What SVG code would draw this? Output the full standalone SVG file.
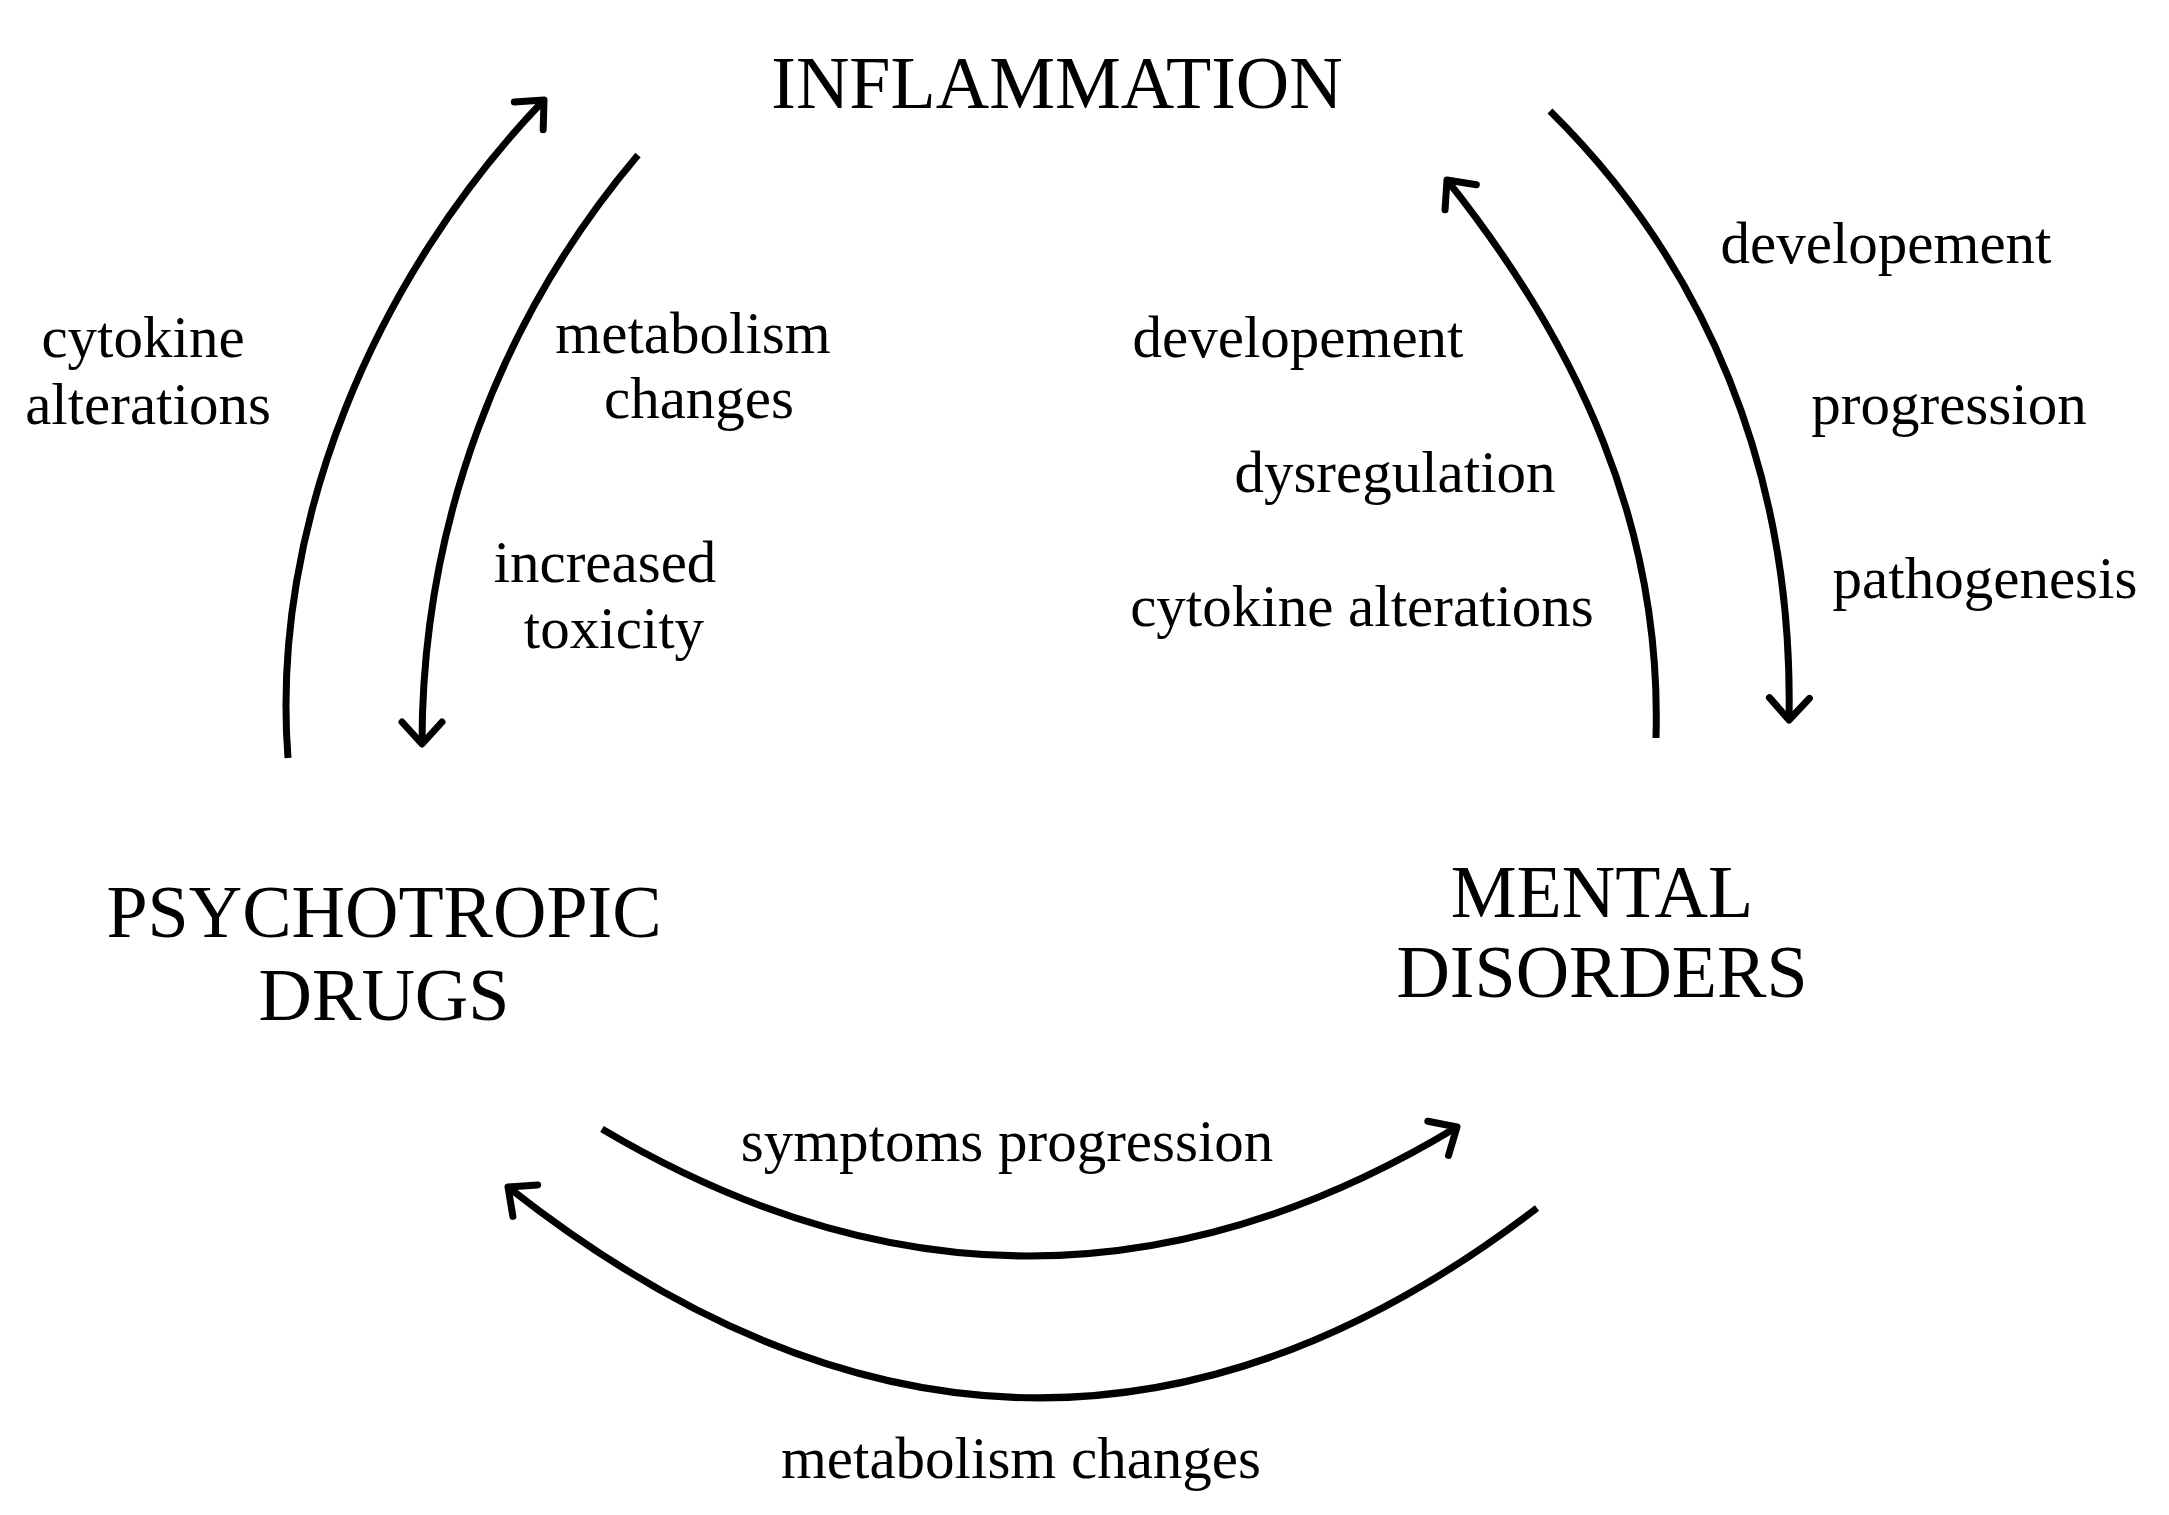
<svg xmlns="http://www.w3.org/2000/svg" width="2169" height="1515" viewBox="0 0 2169 1515">
<style>
.t{font-family:"Liberation Serif","DejaVu Serif",serif;font-size:59px;fill:#000;text-anchor:middle}
.h{font-family:"Liberation Serif","DejaVu Serif",serif;font-size:74px;fill:#000;text-anchor:middle}
.c{fill:none;stroke:#000;stroke-width:7}
</style>
<defs>
<marker id="a" markerUnits="userSpaceOnUse" markerWidth="60" markerHeight="60" refX="30" refY="30" orient="auto" viewBox="0 0 60 60">
<path d="M8,10 L30,30 L8,50" fill="none" stroke="#000" stroke-width="7" stroke-linecap="round" stroke-linejoin="round"/>
</marker>
</defs>
<rect width="2169" height="1515" fill="#fff"/>
<g id="inflammation"><text class="h" x="1057" y="108">INFLAMMATION</text></g>
<g id="psychotropic"><text class="h" x="384" y="937">PSYCHOTROPIC</text><text class="h" x="384" y="1020">DRUGS</text></g>
<g id="mental"><text class="h" x="1602" y="917">MENTAL</text><text class="h" x="1602" y="997">DISORDERS</text></g>
<g id="connectors">
<path class="c" marker-end="url(#a)" d="M288,758 C270,526 374,277 544,100"/>
<path class="c" marker-end="url(#a)" d="M638,155 C499,319 422,526 422,744"/>
<path class="c" marker-end="url(#a)" d="M1656,738 C1662,526 1579,346 1447,180"/>
<path class="c" marker-end="url(#a)" d="M1550,111 C1704,263 1794,471 1789,720"/>
<path class="c" marker-end="url(#a)" d="M602,1129 Q1032,1384 1457,1127"/>
<path class="c" marker-end="url(#a)" d="M1537,1208 Q1029,1598 508,1187"/>
</g>
<g id="labels">
<text class="t" x="143" y="357">cytokine</text>
<text class="t" x="148" y="424">alterations</text>
<text class="t" x="693" y="353">metabolism</text>
<text class="t" x="699" y="418">changes</text>
<text class="t" x="605" y="582">increased</text>
<text class="t" x="614" y="648">toxicity</text>
<text class="t" x="1298" y="357">developement</text>
<text class="t" x="1395" y="492">dysregulation</text>
<text class="t" x="1362" y="626">cytokine alterations</text>
<text class="t" x="1886" y="263">developement</text>
<text class="t" x="1949" y="424">progression</text>
<text class="t" x="1985" y="598">pathogenesis</text>
<text class="t" x="1007" y="1161">symptoms progression</text>
<text class="t" x="1021" y="1478">metabolism changes</text>
</g>
</svg>
